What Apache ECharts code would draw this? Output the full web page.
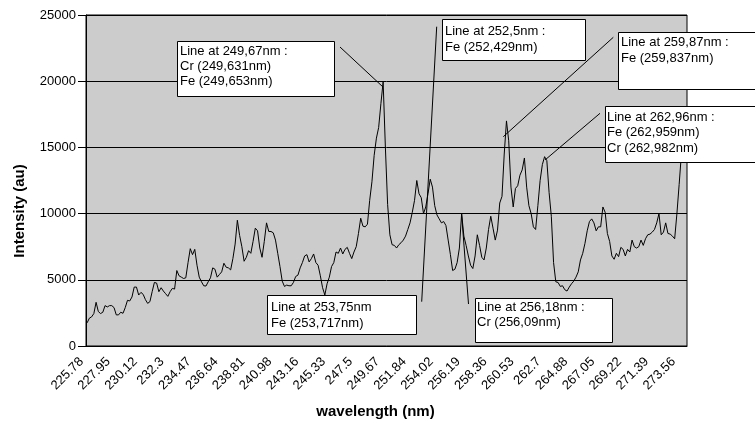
<!DOCTYPE html>
<html>
<head>
<meta charset="utf-8">
<script src="https://cdn.jsdelivr.net/npm/echarts@6/dist/echarts.min.js"></script>
<style>html,body{margin:0;padding:0;background:#fff;}#c{width:755px;height:422px;}</style>
</head>
<body>
<div id="c"></div>
<script>
// wavelength categories: start 225.78 nm, step 0.181 nm, 268 samples
const startNm = 225.78;
const stepNm = 0.181;
const nPoints = 268;
const tickLabels = ['225.78','227.95','230.12','232.3','234.47','236.64','238.81','240.98','243.16','245.33','247.5','249.67','251.84','254.02','256.19','258.36','260.53','262.7','264.88','267.05','269.22','271.39','273.56'];
const yTicks = [0, 5000, 10000, 15000, 20000, 25000];
const intensity = [
1750,2100,2200,2450,3300,2600,2450,2550,3050,2950,
3050,3050,2900,2350,2350,2550,2470,2900,3450,3400,
3700,4450,4450,3850,4050,3900,3500,3220,3350,4100,
4800,4750,4100,4400,4150,3950,3750,4100,4350,4300,
5700,5300,5200,5100,5150,6300,7350,6900,7300,6100,
5200,4850,4550,4530,4850,5150,5900,5800,5200,5400,
5600,6250,5950,5900,5750,6600,7700,9500,8350,7500,
6400,6700,7200,7000,7900,8900,8700,7400,6700,7900,
9300,8650,8650,8550,8000,7000,6000,4900,4500,4600,
4550,4550,4800,5250,5350,5900,6300,6800,6900,6350,
6600,6950,6300,6100,5300,4400,3850,4700,5200,6000,
6300,7100,7000,7400,6950,7300,7450,7000,6600,7100,
7500,8500,9650,9050,9000,9200,11000,12400,14400,15700,
16500,18300,19950,15000,10700,8400,7650,7600,7400,7650,
7800,8000,8300,8800,9300,10100,11000,12500,11500,11200,
10000,10500,11500,12600,12000,10600,9900,9600,9300,9400,
9100,8000,6900,5700,5800,6300,7400,10000,8300,7600,
6800,6100,5850,6800,8400,7600,6700,6500,7400,8800,
9800,8900,8000,8750,10800,11300,14500,17000,15500,12000,
10500,11900,12100,12900,13300,14200,12000,10600,10000,9000,
8800,10600,12500,13700,14300,14000,11600,9800,6300,4850,
4800,4500,4550,4250,4150,4450,4700,4900,5200,5600,
6500,7000,7750,8700,9400,9600,9300,8700,9000,9000,
10500,10100,8500,7900,6800,6550,7000,6750,7450,7300,
6800,7300,7100,8000,7500,7400,7500,8000,7600,8100,
8400,8450,8600,8800,9300,10000,8400,8600,9300,8500,
8450,8300,8100,10000,12200,14500,16500,18000
];
const annotations = [
  {box:[177,41,157,55], text:'Line at 249,67nm :\nCr (249,631nm)\nFe (249,653nm)', tx:180, ty:43.4, ptr:[340,47,383,87]},
  {box:[442,19,143,41], text:'Line at 252,5nm :\nFe (252,429nm)', tx:445, ty:24, ptr:[436.7,26.7,421.7,301.7]},
  {box:[618,32,140,57], text:'Line at 259,87nm :\nFe (259,837nm)', tx:621, ty:35, ptr:[613.3,37.3,503.3,136.7]},
  {box:[605,106,153,56], text:'Line at 262,96nm :\nFe (262,959nm)\nCr (262,982nm)', tx:607, ty:109.7, ptr:[600,113.3,545,160]},
  {box:[267,295,149,39], text:'Line at 253,75nm\nFe (253,717nm)', tx:271, ty:300, ptr:null},
  {box:[475,298,137,44], text:'Line at 256,18nm :\nCr (256,09nm)', tx:477, ty:299.7, ptr:[461.5,213,468.5,304]}
];

const categories = [];
for (let i = 0; i < nPoints; i++) categories.push(String(parseFloat((startNm + i * stepNm).toFixed(2))));

const FONT = '"Liberation Sans", Arial, sans-serif';
const graphics = [];
annotations.forEach(a => {
  if (a.ptr) graphics.push({type:'line', z:100, shape:{x1:a.ptr[0],y1:a.ptr[1],x2:a.ptr[2],y2:a.ptr[3]}, style:{stroke:'#000',lineWidth:1}});
});
annotations.forEach(a => {
  graphics.push({type:'rect', z:101, shape:{x:a.box[0]+0.5,y:a.box[1]+0.5,width:a.box[2],height:a.box[3]}, style:{fill:'#fff',stroke:'#000',lineWidth:1}});
  graphics.push({type:'text', z:102, x:a.tx, y:a.ty, style:{text:a.text, font:'13px ' + FONT, fill:'#000', lineHeight:15.3, verticalAlign:'top', align:'left'}});
});
graphics.push({type:'text', z:50, x:20, y:211, rotation:Math.PI/2, style:{text:'Intensity (au)', font:'bold 15px ' + FONT, fill:'#000', align:'center', verticalAlign:'middle'}});
graphics.push({type:'text', z:50, x:375.5, y:411.7, style:{text:'wavelength (nm)', font:'bold 15px ' + FONT, fill:'#000', align:'center', verticalAlign:'middle'}});

const chart = echarts.init(document.getElementById('c'), null, {renderer:'canvas'});
chart.setOption({
  animation:false,
  backgroundColor:'#fff',
  grid:{left:86, top:15, width:601, height:331, show:true, backgroundColor:'#cccccc', borderColor:'#000', borderWidth:1},
  xAxis:{
    type:'category', data:categories, boundaryGap:true,
    axisLine:{lineStyle:{color:'#000',width:1}},
    axisTick:{interval:0, length:6, lineStyle:{color:'#222',width:1}},
    axisLabel:{interval:11, rotate:45, margin:8, padding:[0,8,0,0], fontSize:13, fontFamily:FONT, color:'#000',
      formatter:(v, idx) => tickLabels[Math.round(idx/12)] || v}
  },
  yAxis:{
    type:'value', min:yTicks[0], max:yTicks[yTicks.length-1], interval:5000,
    axisLine:{show:true, lineStyle:{color:'#000'}},
    axisTick:{show:true, length:8, lineStyle:{color:'#000'}},
    axisLabel:{fontSize:13, fontFamily:FONT, color:'#000', margin:10, formatter:v => String(v)},
    splitLine:{show:true, lineStyle:{color:'#000', width:1}}
  },
  series:[{type:'line', data:intensity, showSymbol:false, symbol:'none', lineStyle:{color:'#000', width:1}, itemStyle:{color:'#000'}}],
  graphic:graphics
});
</script>
</body>
</html>
